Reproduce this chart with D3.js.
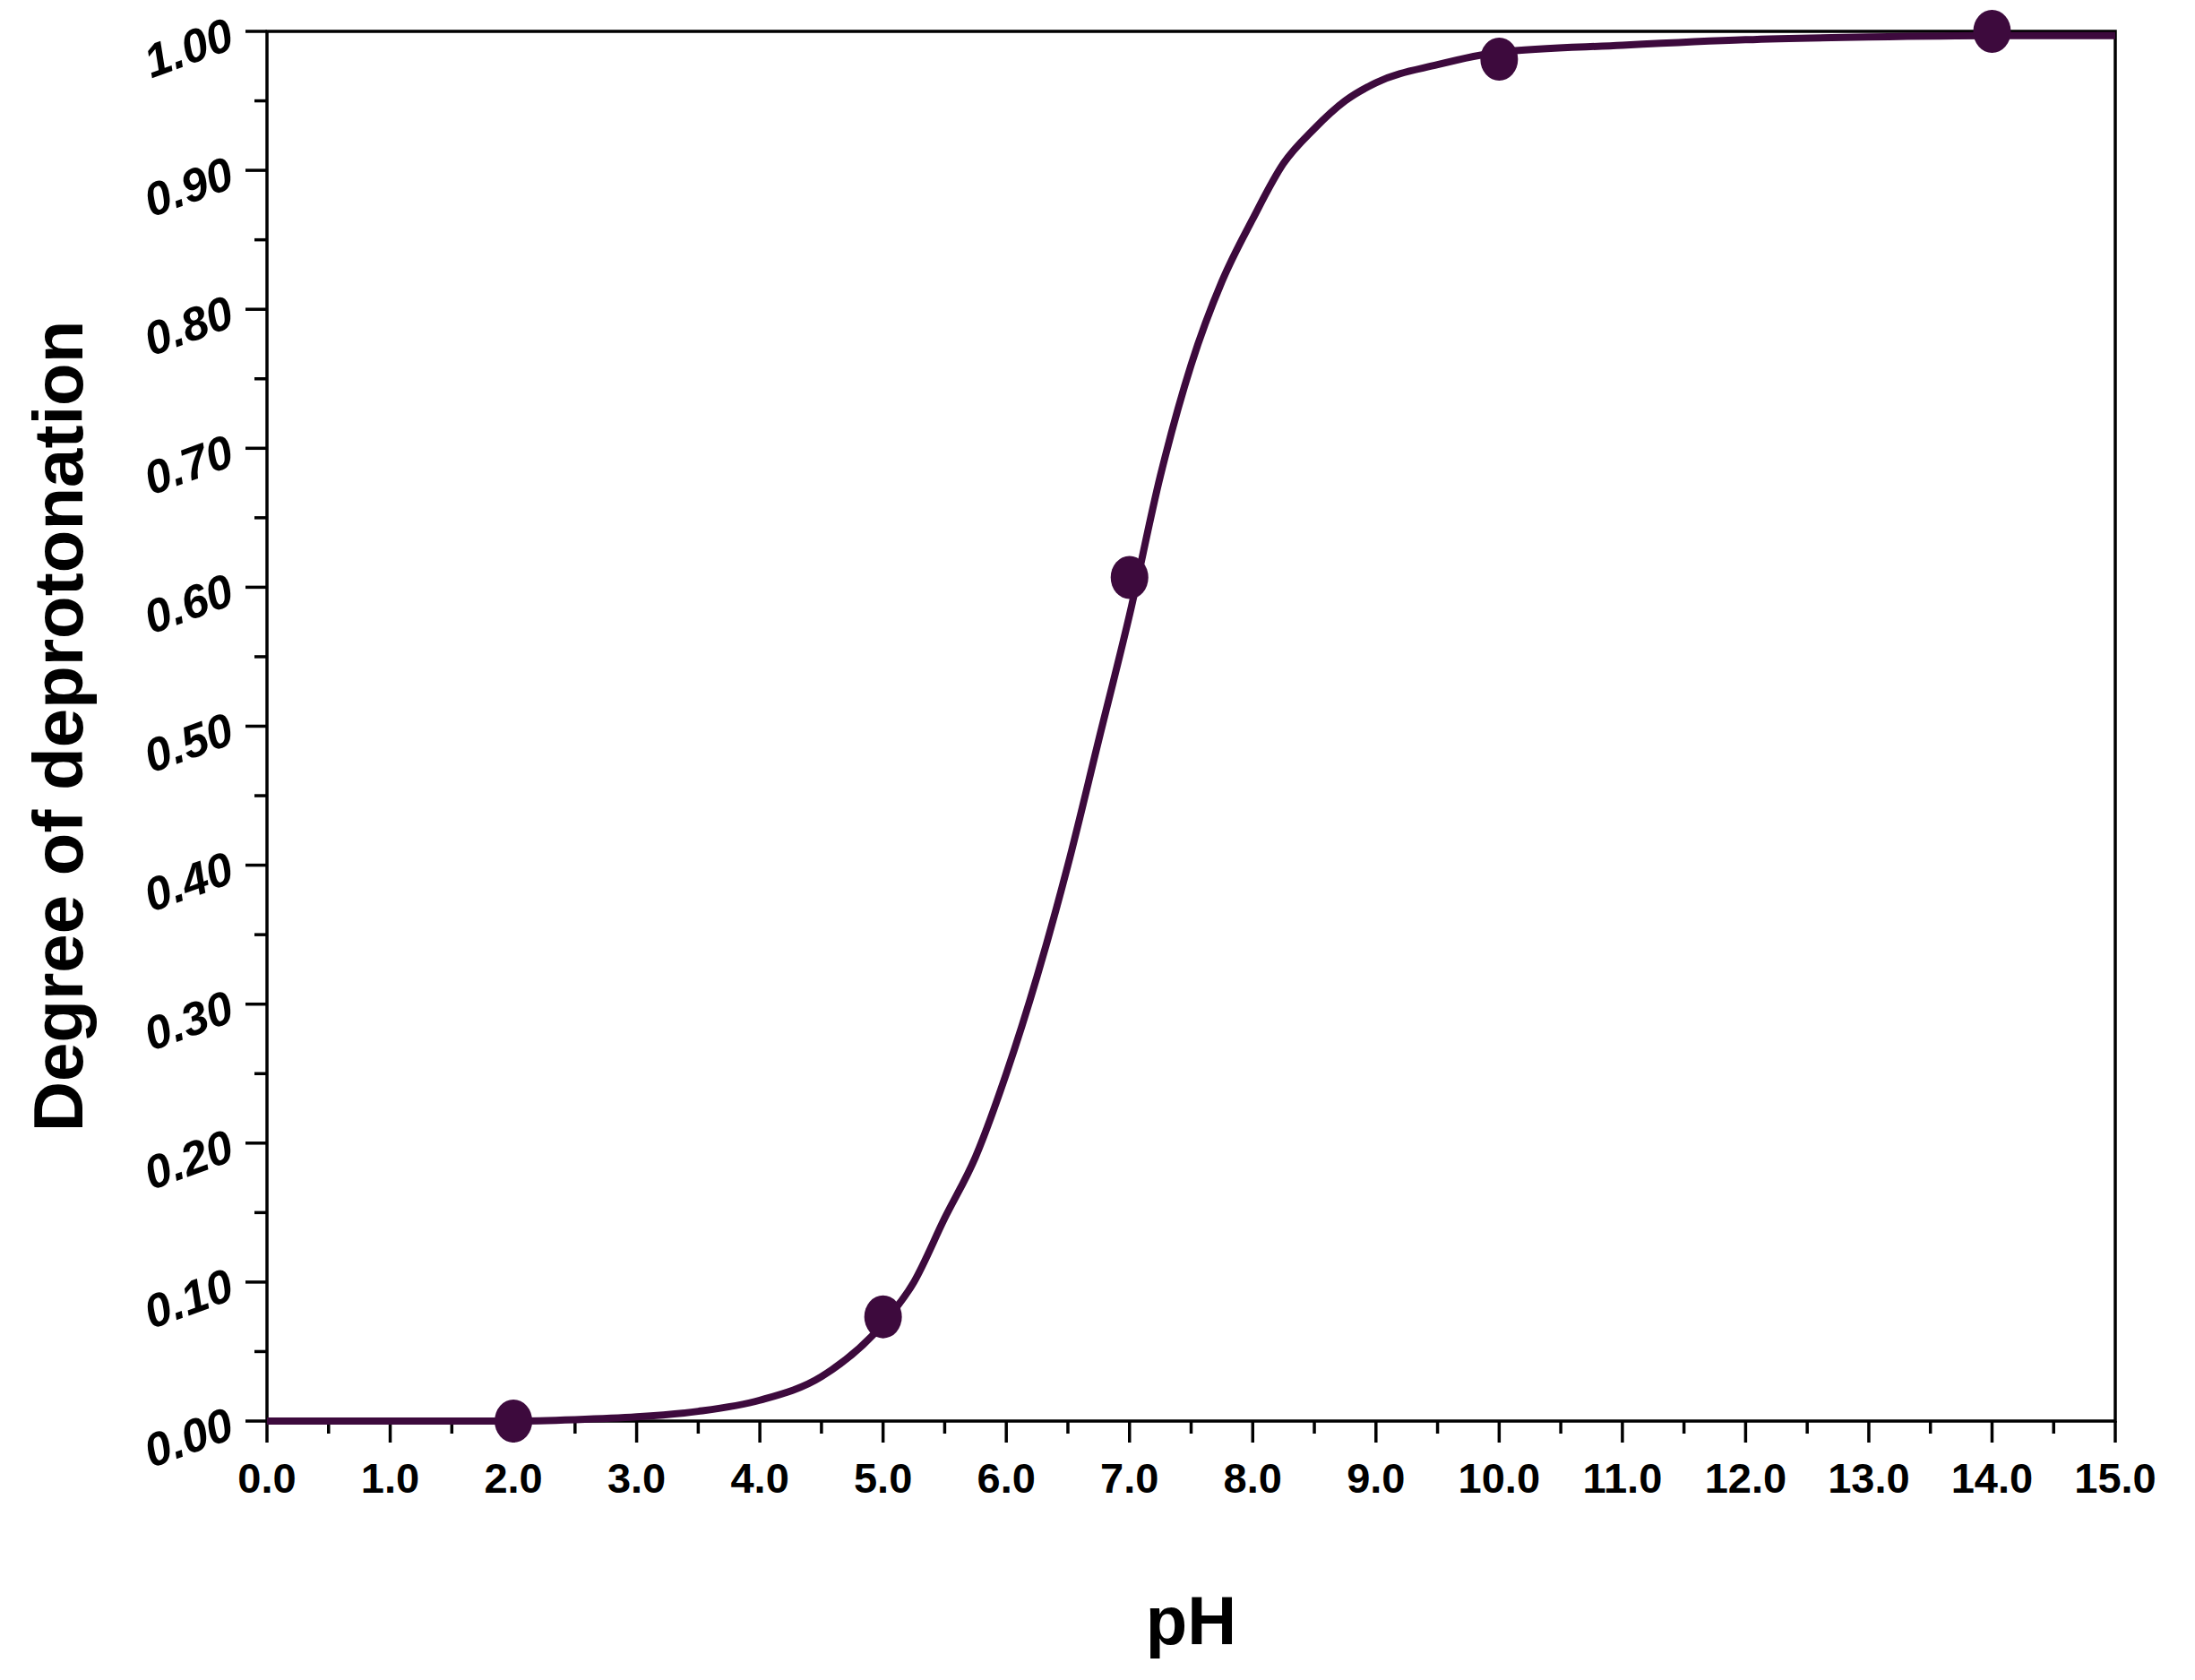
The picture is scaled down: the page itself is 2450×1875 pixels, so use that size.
<!DOCTYPE html><html><head><meta charset="utf-8"><script src="https://cdn.jsdelivr.net/npm/d3@7"></script>
<style>body{margin:0;background:#fff}text{font-family:"Liberation Sans",Arial,sans-serif;font-weight:bold;fill:#000}</style></head><body>
<svg id="c" width="2450" height="1875"></svg>
<script>
const curvePH  = [0,1,2,2.5,3,3.5,4,4.5,5,5.25,5.5,5.75,6,6.25,6.5,6.75,7,7.25,7.5,7.75,8,8.25,8.5,8.75,9,9.5,10,11,12,13,14,15];
const curveVal = [0,0,0,0.001,0.003,0.007,0.015,0.032,0.07,0.1,0.146,0.19,0.25,0.32,0.40,0.49,0.58,0.68,0.76,0.82,0.865,0.905,0.93,0.95,0.963,0.976,0.985,0.99,0.994,0.996,0.997,0.997];
const ptPH  = [2,5,7,10,14];
const ptVal = [0,0.075,0.607,0.98,1.0];
const xTicks = d3.range(0,15.01,1);
const yTicks = d3.range(0,1.001,0.1);
const col="#3d0a3d";
const svg=d3.select("#c");
const L=298,R=2361,T=35,B=1586;
const x=d3.scaleLinear().domain([0,15]).range([L,R]);
const y=d3.scaleLinear().domain([0,1]).range([B,T]);
svg.append("rect").attr("x",L).attr("y",T).attr("width",R-L).attr("height",B-T).attr("fill","none").attr("stroke","#000").attr("stroke-width",3.5);
const g=svg.append("g");
d3.range(0,15.01,0.5).forEach(v=>{const maj=Math.abs(v-Math.round(v))<1e-6;
 g.append("line").attr("x1",x(v)).attr("x2",x(v)).attr("y1",B).attr("y2",B+(maj?24:14)).attr("stroke","#000").attr("stroke-width",3.5);});
d3.range(0,1.0001,0.05).forEach(v=>{const maj=Math.abs(v*10-Math.round(v*10))<1e-6;
 g.append("line").attr("x1",L).attr("x2",L-(maj?24:14)).attr("y1",y(v)).attr("y2",y(v)).attr("stroke","#000").attr("stroke-width",3.5);});
xTicks.forEach(v=>g.append("text").attr("x",x(v)).attr("y",B+80).attr("text-anchor","middle").attr("font-size",47).text(v.toFixed(1)));
yTicks.forEach(v=>g.append("text").attr("transform",`translate(${L-34},${y(v)+18}) rotate(-20)`).attr("text-anchor","end").attr("font-size",52).attr("font-style","italic").text(v.toFixed(2)));
svg.append("text").attr("x",(L+R)/2).attr("y",1835).attr("text-anchor","middle").attr("font-size",76).text("pH");
svg.append("text").attr("transform",`translate(92,${(T+B)/2}) rotate(-90)`).attr("text-anchor","middle").attr("font-size",78).text("Degree of deprotonation");
const line=d3.line().x((d,i)=>x(curvePH[i])).y((d,i)=>y(curveVal[i])).curve(d3.curveMonotoneX);
svg.append("path").attr("d",line(curvePH)).attr("fill","none").attr("stroke",col).attr("stroke-width",8);
ptPH.forEach((p,i)=>svg.append("ellipse").attr("cx",x(p)).attr("cy",y(ptVal[i])).attr("rx",21).attr("ry",24).attr("fill",col));
</script></body></html>
